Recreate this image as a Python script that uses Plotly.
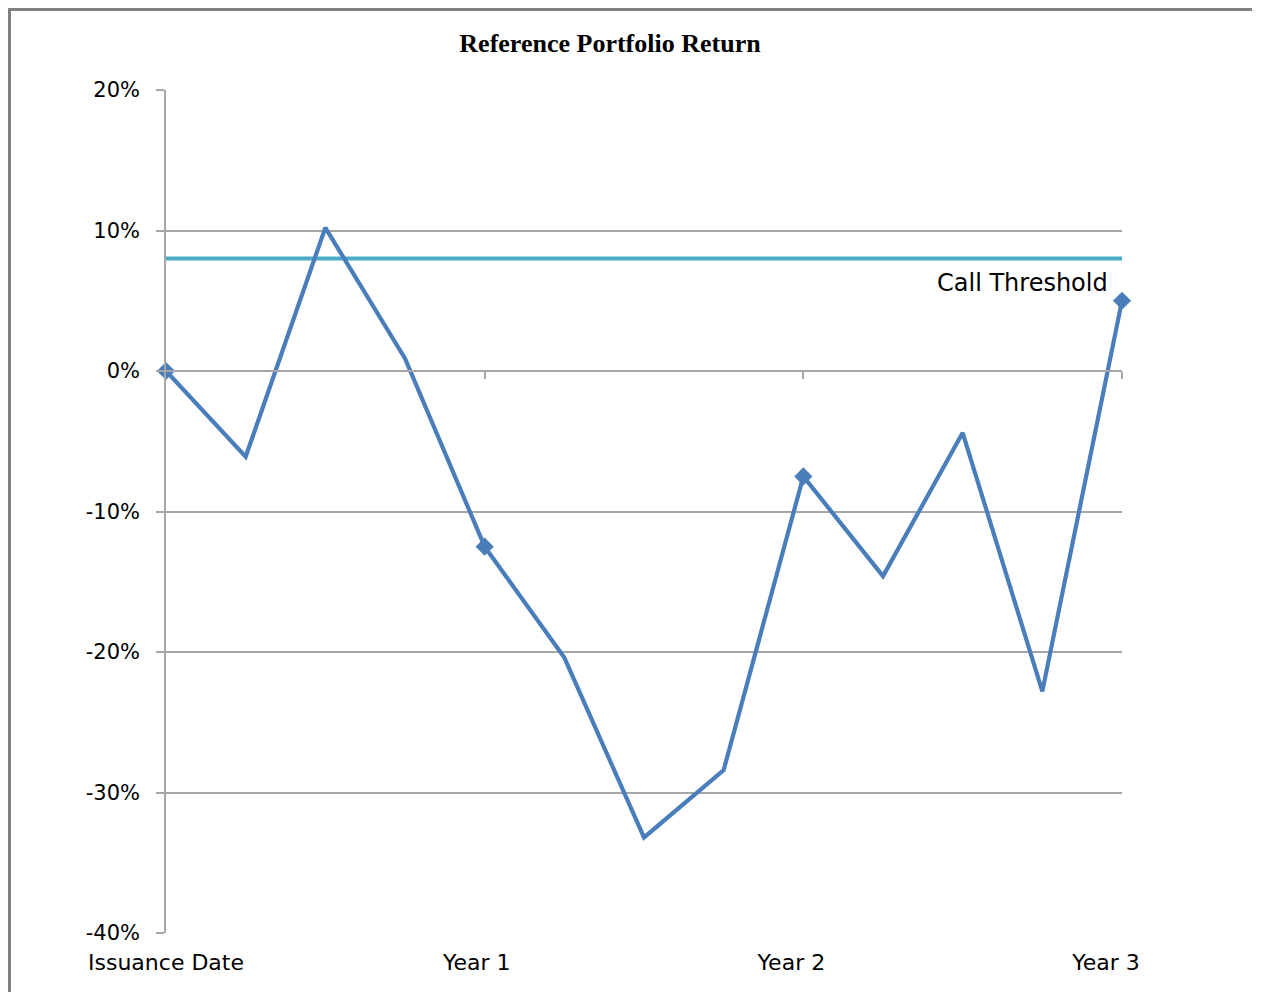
import plotly.graph_objects as go

# Data (quarterly observations, percent)
quarters = list(range(13))
returns = [0.0, -6.1, 10.2, 0.9, -12.5, -20.4, -33.2, -28.4, -7.5, -14.6, -4.4, -22.8, 5.0]
call_threshold = 8.0
year_idx = [0, 4, 8, 12]
year_labels = ["Issuance Date", "Year 1", "Year 2", "Year 3"]
year_label_pos = [0, 3.9, 7.85, 11.8]
y_ticks = [20, 10, 0, -10, -20, -30, -40]
y_tick_text = ["20%", "10%", "0%", "-10%", "-20%", "-30%", "-40%"]

LINE = "#4A7EBB"
THR = "#4BACC6"
GRID = "#A6A6A6"
FONT = "DejaVu Sans"

OFF = 8  # page body margin
W, H = 1261 - OFF, 992 - OFF
L, T = 166 - OFF, 90 - OFF
pw, ph = 956, 843
R, B = W - L - pw, H - T - ph

def px(xp):
    return (xp - OFF - L) / pw

def py(yp):
    return (T + ph - (yp - OFF)) / ph

fig = go.Figure()

fig.add_trace(go.Scatter(
    x=[quarters[0], quarters[-1]], y=[call_threshold, call_threshold],
    mode="lines", line=dict(color=THR, width=4), hoverinfo="skip",
    showlegend=False, cliponaxis=False))

fig.add_trace(go.Scatter(
    x=quarters, y=returns, mode="lines", line=dict(color=LINE, width=4.2),
    showlegend=False, cliponaxis=False))

fig.add_trace(go.Scatter(
    x=[quarters[i] for i in year_idx], y=[returns[i] for i in year_idx],
    mode="markers", marker=dict(symbol="diamond", size=14, color=LINE),
    showlegend=False, cliponaxis=False))

# dummy trace on second x axis (axis at 0%)
fig.add_trace(go.Scatter(x=[0], y=[0], xaxis="x2", mode="markers",
                         marker=dict(opacity=0), hoverinfo="skip", showlegend=False))

fig.update_layout(
    width=W, height=H,
    margin=dict(l=L, r=R, t=T, b=B),
    paper_bgcolor="white", plot_bgcolor="white",
    font=dict(family=FONT, color="#000000"),
    title=dict(text="<b>Reference Portfolio Return</b>",
               font=dict(family="Liberation Serif", size=26, color="#000000"),
               x=(610 - OFF) / W, xanchor="center", y=1 - (43 - OFF) / H, yanchor="middle",
               xref="container", yref="container"),
    xaxis=dict(range=[0, 12], showgrid=False, zeroline=False, showline=False,
               tickvals=year_label_pos, ticktext=year_labels,
               ticks="outside", ticklen=10, tickcolor="rgba(0,0,0,0)",
               tickfont=dict(family=FONT, size=22, color="#000000")),
    xaxis2=dict(range=[0, 12], overlaying="x", anchor="free", position=2 / 3,
                side="bottom", showgrid=False, zeroline=False, showline=True,
                linecolor=GRID, linewidth=1.5, tickvals=[4, 8, 12],
                ticks="outside", ticklen=7, tickcolor=GRID, tickwidth=1.5,
                showticklabels=False),
    yaxis=dict(range=[-40, 20], tickvals=y_ticks, ticktext=y_tick_text,
               showgrid=True, gridcolor=GRID, gridwidth=1.5,
               zeroline=False, showline=True, linecolor=GRID, linewidth=1.5,
               ticks="outside", ticklen=8, tickcolor=GRID, tickwidth=1.5,
               ticklabelstandoff=12,
               tickfont=dict(family=FONT, size=21, color="#000000")),
    annotations=[dict(x=quarters[-1], y=call_threshold, xref="x", yref="y",
                      text="Call Threshold", showarrow=False,
                      xanchor="right", yanchor="top", xshift=-12, yshift=-8,
                      font=dict(family=FONT, size=24, color="#000000"))],
    shapes=[
        dict(type="line", xref="paper", yref="paper",
             x0=px(9.5), x1=px(9.5), y0=py(8), y1=py(1000),
             line=dict(color="#808080", width=3)),
        dict(type="line", xref="paper", yref="paper",
             x0=px(8), x1=px(1252), y0=py(9.5), y1=py(9.5),
             line=dict(color="#808080", width=3)),
    ],
)

fig.write_html("out.html")
